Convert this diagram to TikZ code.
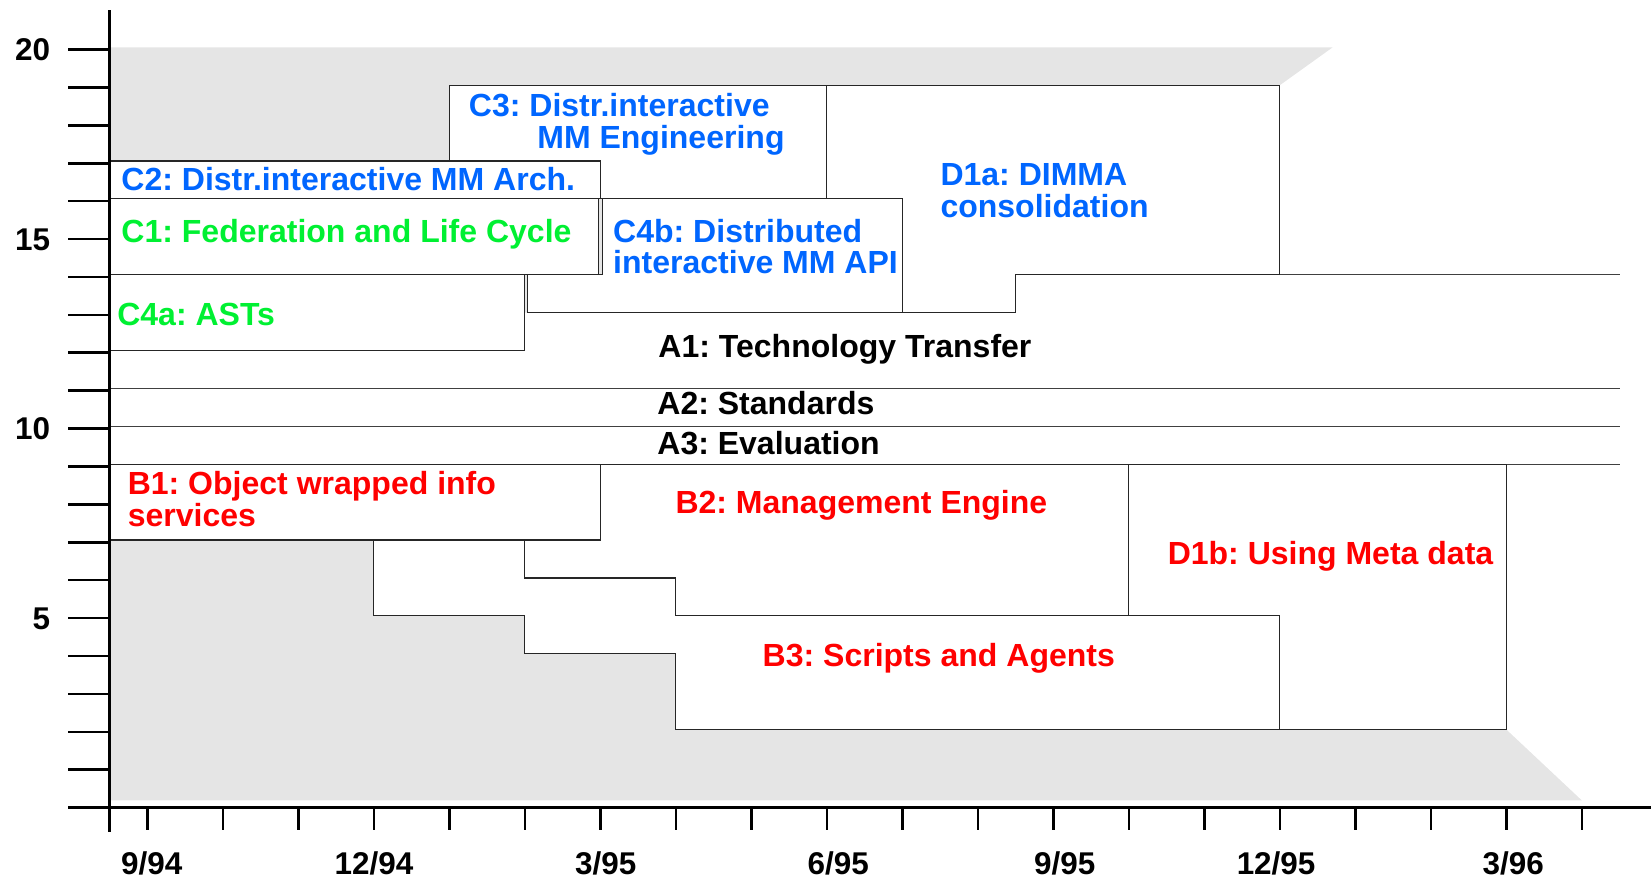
\documentclass[tikz,border=0pt]{standalone}
\usepackage{fontspec}
\setmainfont{Liberation Sans}
\frenchspacing
\definecolor{tblue}{RGB}{0,102,255}
\definecolor{tgreen}{RGB}{0,240,50}
\definecolor{tred}{RGB}{255,0,0}
\definecolor{bggray}{RGB}{229,229,229}
\begin{document}
\begin{tikzpicture}[x=1.434cm,y=0.72cm,
  box/.style={draw=black!85,line width=0.6pt,fill=white},
  bandline/.style={draw=black!75,line width=0.6pt},
  axisline/.style={line width=1.4pt,black},
  lbl/.style={font=\fontsize{17.3}{17.3}\selectfont\bfseries,inner sep=0pt,anchor=west,text height=12.4pt,text depth=0pt},
  ticklbl/.style={font=\fontsize{17}{17}\selectfont\bfseries,inner sep=0pt,text height=12.2pt,text depth=0pt,black}]
\useasboundingbox (-1.953,-1.889) rectangle (19.916,21.306);
\begin{scope}[yshift=1.2pt]
% grey background
\fill[bggray] (-0.5,0.13) -- (-0.5,20) -- (15.7,20) -- (15,19) -- (15,2) -- (18,2) -- (19,0.13) -- cycle;
% A bands
\fill[white] (-0.5,9) -- (-0.5,12) -- (5,12) -- (5,13) -- (11.5,13) -- (11.5,14) -- (19.5,14) -- (19.5,9) -- cycle;
\draw[bandline] (15,14) -- (19.5,14);
\draw[bandline] (-0.5,11) -- (19.5,11);
\draw[bandline] (-0.5,10) -- (19.5,10);
\draw[bandline] (-0.5,9) -- (19.5,9);
% C boxes
\draw[box] (-0.5,16) rectangle (6,17);
\draw[box] (4,19) -- (9,19) -- (9,16) -- (6,16) -- (6,17) -- (4,17) -- cycle;
\draw[box] (-0.5,14) rectangle (5.97,16);
\draw[box] (-0.5,12) rectangle (5,14);
\draw[box] (5.035,13) -- (10,13) -- (10,16) -- (6.03,16) -- (6.03,14) -- (5.035,14) -- cycle;
\draw[box] (9,19) -- (15,19) -- (15,14) -- (11.5,14) -- (11.5,13) -- (10,13) -- (10,16) -- (9,16) -- cycle;
% B boxes
\draw[box] (-0.5,7) rectangle (6,9);
\draw[box] (6,9) -- (13,9) -- (13,5) -- (7,5) -- (7,6) -- (5,6) -- (5,7) -- (6,7) -- cycle;
\draw[box] (3,7) -- (5,7) -- (5,6) -- (7,6) -- (7,5) -- (15,5) -- (15,2) -- (7,2) -- (7,4) -- (5,4) -- (5,5) -- (3,5) -- cycle;
\draw[box] (13,9) -- (18,9) -- (18,2) -- (15,2) -- (15,5) -- (13,5) -- cycle;
\end{scope}
% axes
\draw[axisline] (-0.5,-0.64) -- (-0.5,21.03);
\draw[axisline] (-1.05,0) -- (19.95,0);
\foreach \v in {1,...,20} \draw[axisline] (-1.05,\v) -- (-0.5,\v);
\foreach \m in {0,...,19} \draw[axisline] (\m,0) -- (\m,-0.58);
% y labels
\node[ticklbl,anchor=east] (y20) at (-1.283,20) {20};
\node[ticklbl,anchor=east] (y15) at (-1.283,15) {15};
\node[ticklbl,anchor=east] (y10) at (-1.283,10) {10};
\node[ticklbl,anchor=east] (y5) at (-1.283,5) {5};
% x labels
\node[ticklbl] (x1) at (0.056,-1.47) {9/94};
\node[ticklbl] (x2) at (3.0,-1.47) {12/94};
\node[ticklbl] (x3) at (6.07,-1.47) {3/95};
\node[ticklbl] (x4) at (9.15,-1.47) {6/95};
\node[ticklbl] (x5) at (12.15,-1.47) {9/95};
\node[ticklbl] (x6) at (14.95,-1.47) {12/95};
\node[ticklbl] (x7) at (18.09,-1.47) {3/96};
% task labels
\node[lbl,tblue] (c3a) at (4.254,18.53) {C3: Distr.interactive};
\node[lbl,tblue] (c3b) at (5.160,17.69) {MM Engineering};
\node[lbl,tblue] (c2) at (-0.349,16.58) {C2: Distr.interactive MM Arch.};
\node[lbl,tgreen] (c1) at (-0.349,15.22) {C1: Federation and Life Cycle};
\node[lbl,tblue] (c4ba) at (6.165,15.22) {C4b: Distributed};
\node[lbl,tblue] (c4bb) at (6.165,14.39) {interactive MM API};
\node[lbl,tblue] (d1aa) at (10.50,16.72) {D1a: DIMMA};
\node[lbl,tblue] (d1ab) at (10.50,15.86) {consolidation};
\node[lbl,tgreen] (c4a) at (-0.404,13.03) {C4a: ASTs};
\node[lbl,black] (a1) at (6.764,12.17) {A1: Technology Transfer};
\node[lbl,black] (a2) at (6.75,10.67) {A2: Standards};
\node[lbl,black] (a3) at (6.75,9.61) {A3: Evaluation};
\node[lbl,tred] (b1a) at (-0.265,8.56) {B1: Object wrapped info};
\node[lbl,tred] (b1b) at (-0.265,7.72) {services};
\node[lbl,tred] (b2) at (6.99,8.06) {B2: Management Engine};
\node[lbl,tred] (d1b) at (13.51,6.72) {D1b: Using Meta data};
\node[lbl,tred] (b3) at (8.145,4.03) {B3: Scripts and Agents};
\end{tikzpicture}
\end{document}
